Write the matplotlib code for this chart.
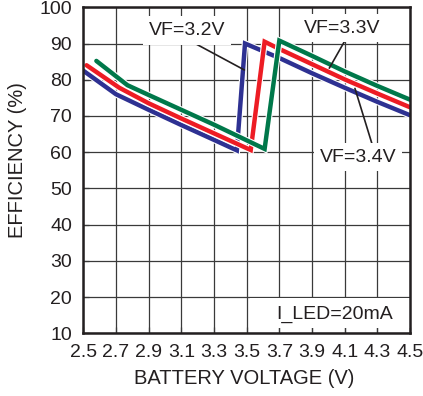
import matplotlib
matplotlib.use("Agg")
import matplotlib.pyplot as plt
import matplotlib.patheffects as pe
from matplotlib.patches import Rectangle

plt.rcParams['font.family'] = ['Liberation Sans', 'DejaVu Sans']

# Data (battery voltage V, efficiency %)
vf32_x = [2.50, 2.70, 2.90, 3.10, 3.30, 3.44, 3.49, 3.70, 3.90, 4.10, 4.30, 4.50]
vf32_y = [82.5, 76.0, 71.7, 67.5, 63.4, 60.5, 90.0, 86.0, 81.8, 77.8, 73.9, 70.2]

vf33_x = [2.52, 2.72, 2.90, 3.10, 3.30, 3.525, 3.61, 3.70, 3.90, 4.10, 4.30, 4.50]
vf33_y = [84.0, 77.8, 73.5, 69.3, 65.2, 60.6, 90.5, 88.5, 84.3, 80.1, 76.2, 72.4]

vf34_x = [2.58, 2.77, 2.90, 3.10, 3.30, 3.61, 3.70, 3.90, 4.10, 4.30, 4.50]
vf34_y = [85.2, 78.5, 75.8, 71.7, 67.6, 60.9, 90.8, 86.6, 82.3, 78.3, 74.5]

x_ticks = [2.5, 2.7, 2.9, 3.1, 3.3, 3.5, 3.7, 3.9, 4.1, 4.3, 4.5]
y_ticks = [10, 20, 30, 40, 50, 60, 70, 80, 90, 100]

# Annotations: label, text position, leader line start, leader line end
ann_labels = ["VF=3.2V", "VF=3.3V", "VF=3.4V"]
ann_text_xy = [(3.135, 92.4), (4.087, 93.0), (4.18, 57.4)]
ann_line_start = [(3.123, 91.5), (4.122, 92.4), (4.266, 62.5)]
ann_line_end = [(3.486, 82.7), (4.006, 83.2), (4.163, 77.6)]

BLUE = '#2E3192'
RED = '#ED1C24'
GREEN = '#00784A'

fig = plt.figure(figsize=(4.23, 3.96), dpi=100)
ax = fig.add_axes([83.3/423, 1-333.3/396, 326.7/423, 326.0/396])

ax.set_xlim(2.5, 4.5)
ax.set_ylim(10, 100)
ax.set_xticks(x_ticks)
ax.set_xticklabels([f"{v:.1f}" for v in x_ticks])
ax.set_yticks(y_ticks)
ax.set_axisbelow(True)
ax.grid(True, color='#3a3a3a', linewidth=0.9)
ax.tick_params(direction='in', length=4.5, width=0.9, color='#3a3a3a',
               labelsize=14, pad=8, colors='#231f20')
for s in ax.spines.values():
    s.set_linewidth(1.8)
    s.set_color('#231f20')
    s.set_zorder(5)

# white background behind I_LED label
ax.add_patch(Rectangle((3.52, 11.6), 0.98, 8.25, facecolor='white',
                       edgecolor='none', zorder=0.7))

lw = 3.2
effects = [pe.Stroke(linewidth=lw + 1.6, foreground='white'), pe.Normal()]
for xs, ys, c in [(vf32_x, vf32_y, BLUE), (vf33_x, vf33_y, RED), (vf34_x, vf34_y, GREEN)]:
    ax.plot(xs, ys, color=c, linewidth=lw, solid_joinstyle='miter',
            solid_capstyle='round', path_effects=effects, zorder=3)

for lab, txy, s, e in zip(ann_labels, ann_text_xy, ann_line_start, ann_line_end):
    ax.annotate('', xy=e, xytext=s,
                arrowprops=dict(arrowstyle='-', lw=1.2, color='#231f20',
                                shrinkA=0, shrinkB=0), zorder=4)
    ax.text(txy[0], txy[1], lab, ha='center', va='baseline', fontsize=14,
            color='#231f20', zorder=6,
            bbox=dict(boxstyle='square,pad=0.3', facecolor='white', edgecolor='none'))

ax.text(4.036, 13.9, "I_LED=20mA", ha='center', va='baseline', fontsize=14,
        color='#231f20', zorder=6)

ax.set_xlabel("BATTERY VOLTAGE (V)", fontsize=14.5, color='#231f20')
ax.set_ylabel("EFFICIENCY (%)", fontsize=14.5, color='#231f20')
ax.xaxis.set_label_coords(0.493, -0.108)
ax.yaxis.set_label_coords(-0.172, 0.532)

fig.savefig("out.png", dpi=100)
